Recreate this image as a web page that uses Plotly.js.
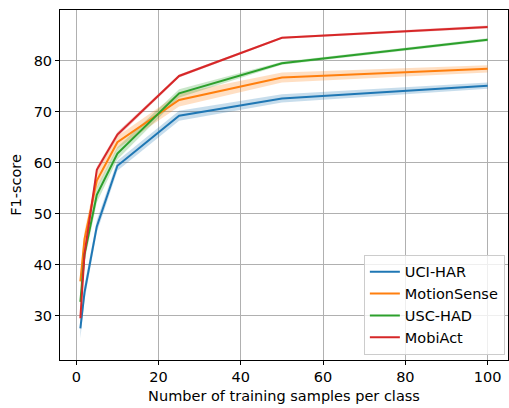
<!DOCTYPE html>
<html>
<head>
<meta charset="utf-8">
<script src="https://cdn.plot.ly/plotly-3.0.1.min.js"></script>
<style>html,body{margin:0;padding:0;background:#fff;}#chart{width:509px;height:408px;}</style>
</head>
<body>
<div id="chart"></div>
<script>
const samples = [1, 2, 5, 10, 25, 50, 100];
const seriesNames = ["UCI-HAR", "MotionSense", "USC-HAD", "MobiAct"];
const uciHar      = [27.5, 34.5, 47.5, 59.4, 69.2, 72.6, 75.1];
const motionSense = [36.7, 45.0, 56.5, 64.0, 72.3, 76.7, 78.4];
const uscHad      = [32.7, 42.0, 53.7, 61.8, 73.6, 79.5, 84.1];
const mobiAct     = [29.5, 42.0, 58.6, 65.5, 77.0, 84.5, 86.6];
const uciHarStd      = [2.0, 1.5, 1.2, 1.0, 1.0, 0.8, 0.6];
const motionSenseStd = [1.5, 1.5, 1.5, 1.2, 1.3, 1.0, 0.7];
const uscHadStd      = [1.5, 1.5, 1.5, 1.2, 0.8, 0.3, 0.3];
const mobiActStd     = [1.0, 1.0, 0.6, 0.5, 0.3, 0.2, 0.3];
const xTicks = [0, 20, 40, 60, 80, 100];
const yTicks = [30, 40, 50, 60, 70, 80];

const colors = ["#1f77b4", "#ff7f0e", "#2ca02c", "#d62728"];
const fills = ["rgba(31,119,180,0.25)", "rgba(255,127,14,0.25)", "rgba(44,160,44,0.25)", "rgba(214,39,40,0.25)"];
const means = [uciHar, motionSense, uscHad, mobiAct];
const stds = [uciHarStd, motionSenseStd, uscHadStd, mobiActStd];

const traces = [];
means.forEach((m, i) => {
  const s = stds[i];
  traces.push({x: samples, y: m.map((v, k) => v - s[k]), mode: "lines", line: {width: 0, color: fills[i]}, showlegend: false, hoverinfo: "skip"});
  traces.push({x: samples, y: m.map((v, k) => v + s[k]), mode: "lines", line: {width: 0, color: fills[i]}, fill: "tonexty", fillcolor: fills[i], showlegend: false, hoverinfo: "skip"});
});
means.forEach((m, i) => {
  traces.push({x: samples, y: m, mode: "lines", name: seriesNames[i], line: {color: colors[i], width: 2}});
});

const font = {family: "DejaVu Sans", size: 14.5, color: "#000"};
const layout = {
  width: 509, height: 408,
  margin: {l: 60, r: 1, t: 10, b: 48},
  paper_bgcolor: "#fff", plot_bgcolor: "#fff",
  font: font,
  showlegend: true,
  xaxis: {
    range: [-3.95, 104.95], tickvals: xTicks, ticks: "outside", ticklen: 4, tickcolor: "#000",
    showgrid: true, gridcolor: "#b0b0b0", gridwidth: 1, zeroline: false,
    showline: true, linecolor: "#000", linewidth: 1, mirror: true,
    title: {text: "Number of training samples per class", font: font, standoff: 6},
    tickfont: font
  },
  yaxis: {
    range: [21.3, 89.94], tickvals: yTicks, ticks: "outside", ticklen: 4, tickcolor: "#000",
    showgrid: true, gridcolor: "#b0b0b0", gridwidth: 1, zeroline: false,
    showline: true, linecolor: "#000", linewidth: 1, mirror: true,
    title: {text: "F1-score", font: font, standoff: 8},
    tickfont: font
  },
  legend: {
    x: 0.993, y: 0.015, xanchor: "right", yanchor: "bottom", traceorder: "normal",
    bgcolor: "rgba(255,255,255,0.8)", bordercolor: "#cccccc", borderwidth: 1,
    font: font, itemwidth: 30, tracegroupgap: 0
  }
};
Plotly.newPlot("chart", traces, layout, {displayModeBar: false, staticPlot: true});
</script>
</body>
</html>
